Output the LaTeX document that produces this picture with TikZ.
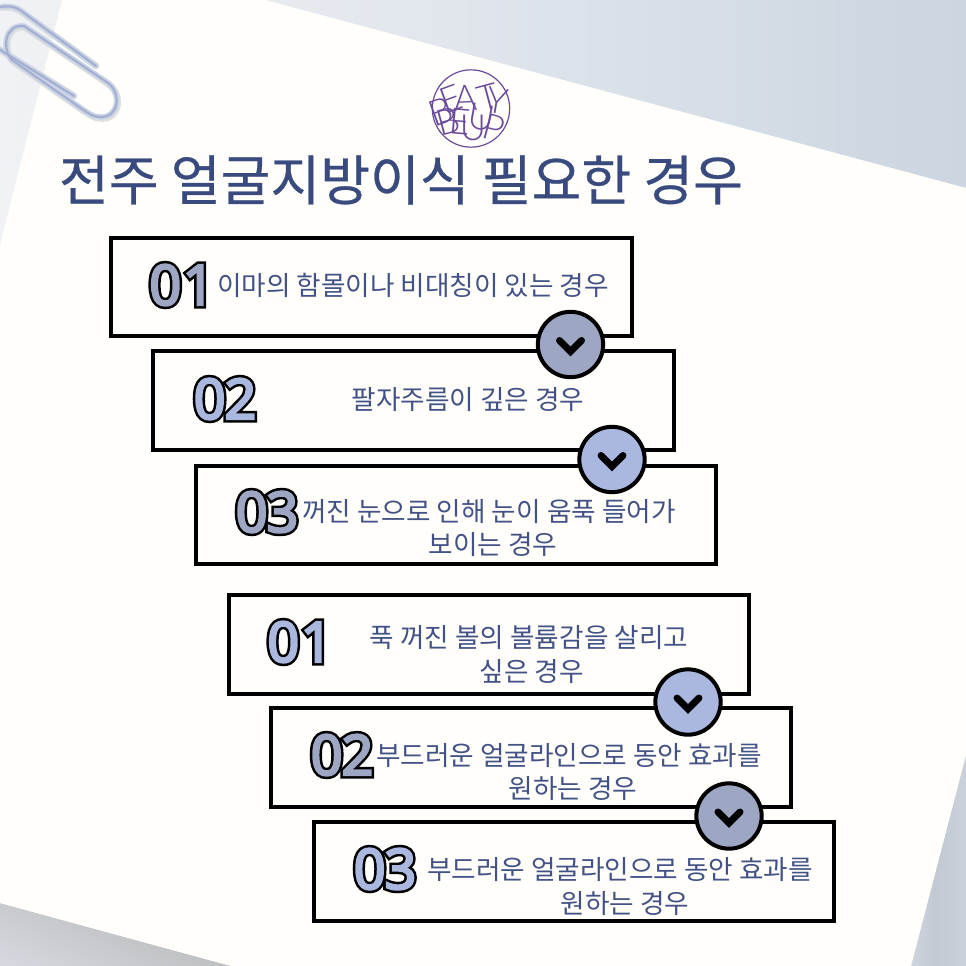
\documentclass[tikz,border=0pt]{standalone}
\usepackage{fontspec}
\setmainfont{Noto Sans CJK KR}
\newfontfamily\titlefont[FakeBold=0.5]{Noto Sans CJK KR}
\newfontfamily\numin[FakeBold=4]{Noto Sans}
\newfontfamily\numout[FakeBold=13]{Noto Sans}
\newfontfamily\logofont{Lato Light}
\usetikzlibrary{calc}
\definecolor{paper}{HTML}{FFFEFA}
\definecolor{ink}{HTML}{425286}
\definecolor{titleink}{HTML}{384A7E}
\definecolor{duskblue}{HTML}{9DA6C2}
\definecolor{skyblue}{HTML}{AAB8E0}
\definecolor{logoviolet}{HTML}{6A4A9C}
\definecolor{clipedge}{HTML}{CBD4E4}
\definecolor{clipcore}{HTML}{A2AFD2}
\definecolor{cornerdark}{HTML}{ACABAC}
\definecolor{cornerlight}{HTML}{DDE1E8}
\definecolor{bga}{HTML}{DEE2E9}
\definecolor{bgb}{HTML}{F0F2F5}
\definecolor{bgc}{HTML}{E0E5EC}
\definecolor{bgd}{HTML}{CFD8E2}
\definecolor{bge}{HTML}{C6D1DD}
\definecolor{bgf}{HTML}{CAD4DF}
\definecolor{rga}{HTML}{E4E7EC}
\definecolor{rgb}{HTML}{C2C9D3}
\definecolor{rgc}{HTML}{D5DAE2}
\pgfdeclarehorizontalshading{bgsh}{100bp}{
  color(0bp)=(bga); color(25bp)=(bgb); color(50bp)=(bgc);
  color(70bp)=(bgd); color(85bp)=(bge); color(100bp)=(bgf)}
\pgfdeclarehorizontalshading{rightsh}{100bp}{
  color(0bp)=(rga); color(50bp)=(rgb); color(100bp)=(rgc)}
\tikzset{
  stepbox/.style={draw=black,line width=3.2pt,fill=paper,minimum width=390.4pt,minimum height=74pt,inner sep=0pt},
  bodytext/.style={text=ink,font=\fontsize{20pt}{24pt}\selectfont,inner sep=0pt},
  badge/.style={circle,draw=black,line width=3pt,minimum size=49pt,inner sep=0pt},
  chevron/.style={draw=black,line width=5.2pt,line cap=round,line join=miter},
  numback/.style={text=black,font=\numout\fontsize{42pt}{42pt}\selectfont,inner sep=0pt},
  numfront/.style={font=\numin\fontsize{42pt}{42pt}\selectfont,inner sep=0pt},
  logoletter/.style={text=logoviolet,font=\logofont\fontsize{27pt}{27pt}\selectfont,inner sep=0pt},
  clipwire/.style={line cap=round,line join=round},
}
\newcommand{\stepnum}[5]{%
  \node[numback] (#1o) at (#2,#3) {#4};
  \node[numfront,text=#5] (#1) at (#2,#3) {#4};
}
\newcommand{\clipshape}[1]{%
  \draw[#1] (paperclipA) .. controls (8,5) and (16,6) .. (24,13) -- (tipA);
  \draw[#1] (paperclipB) -- (tipB);
  \draw[#1] (24,26) -- (108,83) .. controls (122,94) and (119,118) .. (100,117)
     .. controls (93,117) and (88,113) .. (82,109) -- (12,60)
     .. controls (2,50) and (4,24) .. (24,26) -- cycle;
}
\begin{document}
\begin{tikzpicture}[x=0.75pt,y=-0.75pt]
\useasboundingbox (0,0) rectangle (966,966);
\begin{scope}
\clip (0,0) rectangle (966,966);
\shade[shading=bgsh] (0,0) rectangle (966,966);
% lower corners
\begin{scope}
  \clip (0,903) -- (231,966) -- (0,966) -- cycle;
  \shade[top color=cornerdark,bottom color=cornerlight,shading angle=335] (-60,860) rectangle (280,1010);
\end{scope}
\begin{scope}
  \clip (966,755) -- (911,966) -- (966,966) -- cycle;
  \shade[shading=rightsh] (905,755) rectangle (966,966);
\end{scope}
% paper
\fill[paper] (75,-51) -- (966,188) -- (966,755) -- (911,966) -- (231,966) -- (0,903) -- (0,245) -- cycle;
\end{scope}
% paper clip
\coordinate (paperclipA) at (-6,8);
\coordinate (tipA) at (96,66);
\coordinate (paperclipB) at (-6,46);
\coordinate (tipB) at (74,96);
\begin{scope}
\clip (0,0) rectangle (966,966);
\clipshape{clipwire,draw=black!12,line width=5pt,shift={(1,1.5)}}
\clipshape{clipwire,draw=clipedge,line width=4.2pt}
\clipshape{clipwire,draw=clipcore,line width=1.6pt}
\end{scope}
% logo
\node[circle,draw=logoviolet,line width=0.9pt,minimum size=58pt,inner sep=0pt] (logo) at (471,108.5) {};
\node[logoletter,rotate=20] (l1) at (441,112) {B};
\node[logoletter,rotate=20] (l2) at (451,99) {E};
\node[logoletter,rotate=3] (l3) at (466,98) {A};
\node[logoletter,rotate=-10] (l4) at (482,117) {U};
\node[logoletter,rotate=15] (l5) at (488,98) {T};
\node[logoletter,rotate=-10] (l6) at (497,101) {Y};
\node[logoletter,rotate=15] (l7) at (448,121) {B};
\node[logoletter,rotate=-5] (l8) at (460,122) {E};
\node[logoletter,rotate=0] (l9) at (473,128) {U};
\node[logoletter,rotate=-15] (l10) at (494,128) {P};
% title
\node[text=titleink,font=\titlefont\fontsize{40.6pt}{45pt}\selectfont,inner sep=0pt] (title) at (401,180) {전주 얼굴지방이식 필요한 경우};
% boxes
\node[stepbox] (b1) at (371.5,287) {};
\node[stepbox] (b2) at (413.5,400.5) {};
\node[stepbox] (b3) at (456,515) {};
\node[stepbox] (b4) at (489,644.5) {};
\node[stepbox] (b5) at (531,757.5) {};
\node[stepbox] (b6) at (574,871.5) {};
% numbers
\stepnum{n1}{182}{285}{0\kern1pt 1}{duskblue}
\stepnum{n2}{225}{399}{0\kern-1pt 2}{skyblue}
\stepnum{n3}{267}{512}{0\kern-1pt 3}{duskblue}
\stepnum{n4}{300}{642}{0\kern1pt 1}{skyblue}
\stepnum{n5}{342}{755}{0\kern-1pt 2}{duskblue}
\stepnum{n6}{385}{869}{0\kern-1pt 3}{skyblue}
% texts
\node[bodytext] (t1) at (413,285) {이마의 함몰이나 비대칭이 있는 경우};
\node[bodytext] (t2) at (468,400) {팔자주름이 깊은 경우};
\node[bodytext] (t3a) at (489,512) {꺼진 눈으로 인해 눈이 움푹 들어가};
\node[bodytext] (t3b) at (493,545) {보이는 경우};
\node[bodytext] (t4a) at (529,638) {푹 꺼진 볼의 볼륨감을 살리고};
\node[bodytext] (t4b) at (532,672) {싶은 경우};
\node[bodytext] (t5a) at (569,756) {부드러운 얼굴라인으로 동안 효과를};
\node[bodytext] (t5b) at (573,789) {원하는 경우};
\node[bodytext] (t6a) at (620,870) {부드러운 얼굴라인으로 동안 효과를};
\node[bodytext] (t6b) at (625,904) {원하는 경우};
% badges
\foreach \nm/\cx/\cy/\col in {c1/570.5/344.5/duskblue,c2/612/459.5/skyblue,c3/688/702/skyblue,c4/729/816/duskblue}{
  \node[badge,fill=\col] (\nm) at (\cx,\cy) {};
  \draw[chevron] ($(\nm.center)+(-11,-4)$) -- ($(\nm.center)+(0,7)$) -- ($(\nm.center)+(11,-4)$);
}
\end{tikzpicture}
\end{document}
